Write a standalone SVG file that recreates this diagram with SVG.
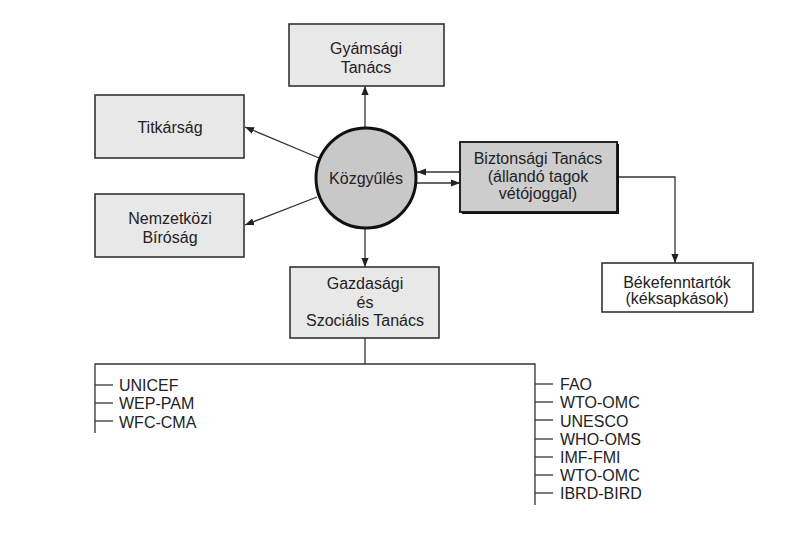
<svg xmlns="http://www.w3.org/2000/svg" width="805" height="549" viewBox="0 0 805 549">
<style>
.box{fill:#e8e8e8;stroke:#333;stroke-width:1.6}
.t{font-family:"Liberation Sans",Arial,sans-serif;font-size:16px;fill:#222;text-anchor:middle}
.l{font-family:"Liberation Sans",Arial,sans-serif;font-size:16px;fill:#222}
.c{stroke:#333;stroke-width:1.3;fill:none}
</style>
<defs>
<marker id="a" viewBox="0 0 10 10" refX="10" refY="5" markerWidth="9" markerHeight="9" markerUnits="userSpaceOnUse" orient="auto">
<path d="M0,1 L10,5 L0,9 z" fill="#222"/>
</marker>
</defs>
<rect width="805" height="549" fill="#fff"/>
<g id="connectors">
<line class="c" x1="365" y1="128" x2="365" y2="86" marker-end="url(#a)"/>
<line class="c" x1="319" y1="158" x2="245" y2="127" marker-end="url(#a)"/>
<line class="c" x1="317" y1="197" x2="245" y2="225" marker-end="url(#a)"/>
<line class="c" x1="365" y1="228" x2="365" y2="267" marker-end="url(#a)"/>
<line class="c" x1="460" y1="172" x2="417" y2="172" marker-end="url(#a)"/>
<line class="c" x1="417" y1="183" x2="460" y2="183" marker-end="url(#a)"/>
<polyline class="c" points="619,177 675,177 675,263" marker-end="url(#a)"/>
<polyline class="c" points="365,338 365,364"/>
<polyline class="c" points="95,433 95,364 535,364 535,505"/>
<g class="c">
<line x1="95" y1="385" x2="113" y2="385"/>
<line x1="95" y1="403" x2="113" y2="403"/>
<line x1="95" y1="421" x2="113" y2="421"/>
<line x1="535" y1="384" x2="553" y2="384"/>
<line x1="535" y1="402" x2="553" y2="402"/>
<line x1="535" y1="420" x2="553" y2="420"/>
<line x1="535" y1="439" x2="553" y2="439"/>
<line x1="535" y1="457" x2="553" y2="457"/>
<line x1="535" y1="475" x2="553" y2="475"/>
<line x1="535" y1="493" x2="553" y2="493"/>
</g>
</g>
<g id="gyamsagi">
<rect class="box" x="289" y="24" width="155" height="62"/>
<text class="t" x="366" y="54">Gyámsági</text>
<text class="t" x="366" y="73">Tanács</text>
</g>
<g id="titkarsag">
<rect class="box" x="95" y="95" width="149" height="63"/>
<text class="t" x="170" y="133">Titkárság</text>
</g>
<g id="nemzetkozi">
<rect class="box" x="95" y="194" width="149" height="63"/>
<text class="t" x="170" y="224">Nemzetközi</text>
<text class="t" x="170" y="243">Bíróság</text>
</g>
<g id="kozgyules">
<circle cx="366" cy="178" r="50" fill="#c8c8c8" stroke="#111" stroke-width="3"/>
<text class="t" x="366" y="184">Közgyűlés</text>
</g>
<g id="biztonsagi">
<rect x="462" y="144" width="157" height="70" fill="#111"/>
<rect x="460" y="142" width="157" height="70" fill="#cdcdcd" stroke="#111" stroke-width="1.8"/>
<text class="t" x="538" y="164">Biztonsági Tanács</text>
<text class="t" x="538" y="182">(állandó tagok</text>
<text class="t" x="538" y="199">vétójoggal)</text>
</g>
<g id="bekefenntartok">
<rect x="602" y="263" width="151" height="49" fill="#fff" stroke="#333" stroke-width="1.6"/>
<text class="t" x="677" y="288">Békefenntartók</text>
<text class="t" x="677" y="304">(kéksapkások)</text>
</g>
<g id="gazdasagi">
<rect class="box" x="290" y="267" width="149" height="71"/>
<text class="t" x="365" y="289">Gazdasági</text>
<text class="t" x="365" y="308">és</text>
<text class="t" x="365" y="326">Szociális Tanács</text>
</g>
<g id="list-left">
<text class="l" x="119" y="391">UNICEF</text>
<text class="l" x="119" y="409">WEP-PAM</text>
<text class="l" x="119" y="428">WFC-CMA</text>
</g>
<g id="list-right">
<text class="l" x="560" y="390">FAO</text>
<text class="l" x="560" y="408">WTO-OMC</text>
<text class="l" x="560" y="427">UNESCO</text>
<text class="l" x="560" y="445">WHO-OMS</text>
<text class="l" x="560" y="463">IMF-FMI</text>
<text class="l" x="560" y="481">WTO-OMC</text>
<text class="l" x="560" y="499">IBRD-BIRD</text>
</g>
</svg>
